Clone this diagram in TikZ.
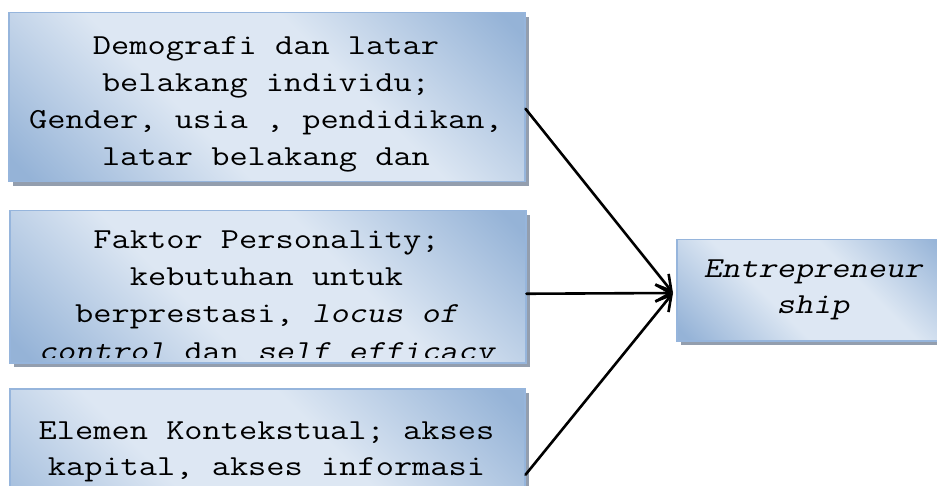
\documentclass[tikz,border=0pt]{standalone}
\usepackage{fontspec}
\setmonofont{Latin Modern Mono}[FakeStretch=1.22]
% oblique typewriter face for the emphasised words
\newfontfamily\obliquett{Latin Modern Mono}[FakeStretch=1.22, FakeSlant=0.21]
\newcommand{\obl}[1]{{\obliquett #1}}
\usetikzlibrary{arrows.meta,shadows}

\definecolor{boxdark}{RGB}{149,179,215}
\definecolor{boxlight}{RGB}{221,231,243}
\definecolor{boxedge}{RGB}{150,181,220}
\definecolor{boxshadow}{RGB}{147,158,174}

% diagonal fill: darker corners at bottom-left and top-right, light band in between
\pgfdeclareverticalshading{boxfill}{100bp}{color(0bp)=(boxdark); color(17bp)=(boxdark); color(40bp)=(boxlight); color(60bp)=(boxlight); color(83bp)=(boxdark); color(100bp)=(boxdark)}

\tikzset{
  panel/.style={draw=boxedge, line width=1.5pt, shading=boxfill, shading angle=-45,
    inner sep=0pt, anchor=north west,
    drop shadow={shadow xshift=4pt, shadow yshift=-4pt, fill=boxshadow, opacity=1, draw=none}},
  boxtext/.style={anchor=base, inner sep=0pt, font=\ttfamily\fontsize{29}{36}\selectfont},
  link/.style={line width=2.6pt, line cap=round,
    -{Straight Barb[length=15pt, width=17pt, line width=2.6pt]}}
}

\begin{document}
\begin{tikzpicture}[x=1pt, y=-1pt]
  \useasboundingbox (0,0) rectangle (937,486);
  \clip (0,0) rectangle (937,486);

  % boxes
  \node[panel, minimum width=516pt, minimum height=169pt] (demo) at (8,12) {};
  \node[panel, minimum width=516pt, minimum height=152pt] (pers) at (9,210) {};
  \node[panel, minimum width=515pt, minimum height=180pt] (ctx) at (9,388) {};
  \node[panel, minimum width=275pt, minimum height=101pt] (ent) at (676,239) {};

  % texts of the first box
  \node[boxtext] (d1) at (266,55) {Demografi dan latar};
  \node[boxtext] (d2) at (266,92) {belakang individu;};
  \node[boxtext] (d3) at (266,129) {Gender, usia , pendidikan,};
  \node[boxtext] (d4) at (266,166) {latar belakang dan};

  % texts of the second box, last line cut by the box interior
  \node[boxtext] (p1) at (266.5,249) {Faktor Personality;};
  \node[boxtext] (p2) at (266.5,286) {kebutuhan untuk};
  \node[boxtext] (p3) at (266.5,323) {berprestasi, \obl{locus of}};
  \begin{scope}
    \clip (12,212) rectangle (520,357);
    \node[boxtext] (p4) at (266.5,360) {\obl{control} dan \obl{self efficacy}};
  \end{scope}

  % texts of the third box
  \node[boxtext] (c1) at (266.5,439) {Elemen Kontekstual; akses};
  \node[boxtext] (c2) at (266.5,475) {kapital, akses informasi};

  % texts of the target box
  \node[boxtext] (e1) at (813,278) {\obl{Entrepreneur}};
  \node[boxtext] (e2) at (813,313) {\obl{ship}};

  % connectors
  \coordinate (tip) at (673,293);
  \draw[link] ([yshift=-11.5pt]demo.east) -- (tip);
  \draw[link] ([yshift=-7pt]pers.east) -- (tip);
  \draw[link] ([yshift=4pt]ctx.east) -- (tip);
\end{tikzpicture}
\end{document}
